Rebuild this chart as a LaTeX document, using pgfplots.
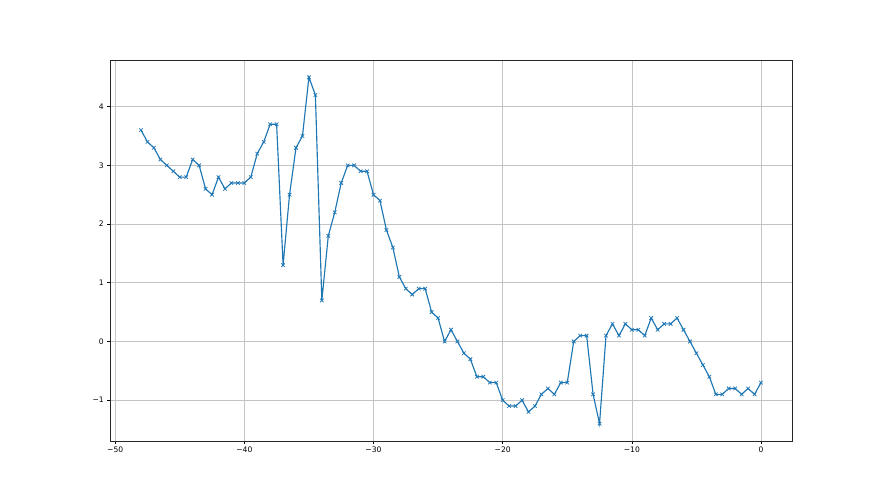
\documentclass[border=0pt]{standalone}
\usepackage{fontspec}
\setmainfont{DejaVu Sans}
\usepackage{pgfplots}
\pgfplotsset{compat=1.18}
\definecolor{mplblue}{HTML}{1F77B4}
\definecolor{gridgray}{HTML}{C4C4C4}
\begin{document}
\begin{tikzpicture}
\path[use as bounding box] (0,0) rectangle (880pt,495pt);
\begin{axis}[
  at={(110pt,54pt)}, anchor=south west,
  width=682pt, height=381pt, scale only axis,
  xmin=-50.4, xmax=2.4, ymin=-1.695, ymax=4.795,
  xtick={-50,-40,-30,-20,-10,0},
  xticklabels={−50,−40,−30,−20,−10,0},
  ytick={-1,0,1,2,3,4},
  yticklabels={−1,0,1,2,3,4},
  grid=major,
  major grid style={color=gridgray, line width=0.6pt},
  axis line style={black!85, line width=0.6pt},
  tick align=outside, major tick length=2.7pt,
  tick style={black, line width=0.6pt},
  xtick pos=bottom, ytick pos=left,
  ticklabel style={font=\fontsize{7.6}{9}\selectfont, text=black},
  /pgf/number format/assume math mode=true,
]
\addplot[color=mplblue, line width=1.15pt, mark=x, mark size=2.5pt,
  mark options={line width=0.76pt, solid}] coordinates {
(-48,3.6) (-47.5,3.4) (-47,3.3) (-46.5,3.1) (-46,3.0) (-45.5,2.9) (-45,2.8) (-44.5,2.8)
(-44,3.1) (-43.5,3.0) (-43,2.6) (-42.5,2.5) (-42,2.8) (-41.5,2.6) (-41,2.7) (-40.5,2.7)
(-40,2.7) (-39.5,2.8) (-39,3.2) (-38.5,3.4) (-38,3.7) (-37.5,3.7) (-37,1.3) (-36.5,2.5)
(-36,3.3) (-35.5,3.5) (-35,4.5) (-34.5,4.2) (-34,0.7) (-33.5,1.8) (-33,2.2) (-32.5,2.7)
(-32,3.0) (-31.5,3.0) (-31,2.9) (-30.5,2.9) (-30,2.5) (-29.5,2.4) (-29,1.9) (-28.5,1.6)
(-28,1.1) (-27.5,0.9) (-27,0.8) (-26.5,0.9) (-26,0.9) (-25.5,0.5) (-25,0.4) (-24.5,0.0)
(-24,0.2) (-23.5,0.0) (-23,-0.2) (-22.5,-0.3) (-22,-0.6) (-21.5,-0.6) (-21,-0.7) (-20.5,-0.7)
(-20,-1.0) (-19.5,-1.1) (-19,-1.1) (-18.5,-1.0) (-18,-1.2) (-17.5,-1.1) (-17,-0.9) (-16.5,-0.8)
(-16,-0.9) (-15.5,-0.7) (-15,-0.7) (-14.5,0.0) (-14,0.1) (-13.5,0.1) (-13,-0.9) (-12.5,-1.4)
(-12,0.1) (-11.5,0.3) (-11,0.1) (-10.5,0.3) (-10,0.2) (-9.5,0.2) (-9,0.1) (-8.5,0.4)
(-8,0.2) (-7.5,0.3) (-7,0.3) (-6.5,0.4) (-6,0.2) (-5.5,0.0) (-5,-0.2) (-4.5,-0.4)
(-4,-0.6) (-3.5,-0.9) (-3,-0.9) (-2.5,-0.8) (-2,-0.8) (-1.5,-0.9) (-1,-0.8) (-0.5,-0.9)
(0,-0.7)
};
\end{axis}
\end{tikzpicture}
\end{document}
